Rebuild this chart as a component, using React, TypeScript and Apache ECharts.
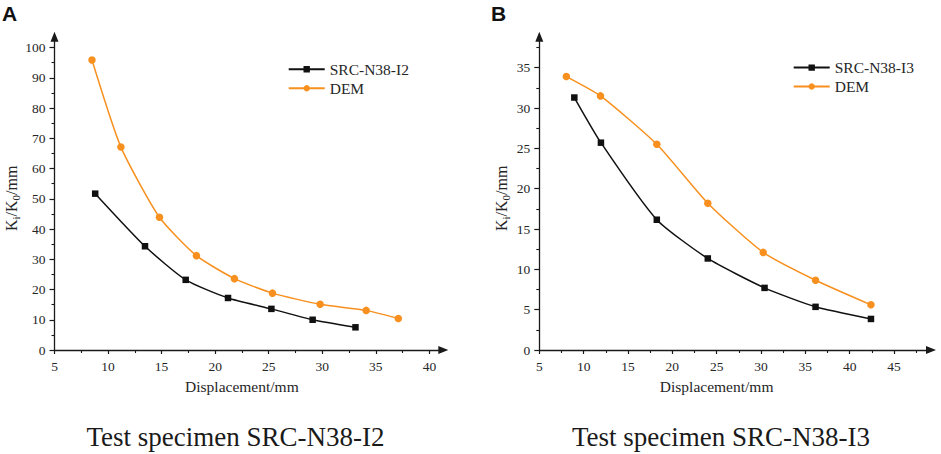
import React, { useEffect, useRef } from "react";
import * as echarts from "echarts";

// ---- Data ----
const A_SRC_NAME = "SRC-N38-I2";
const A_SRC_X = [8.8, 13.45, 17.25, 21.2, 25.25, 29.1, 33.1];
const A_SRC_Y = [51.7, 34.3, 23.2, 17.2, 13.6, 10.0, 7.5];
const A_DEM_X = [8.5, 11.2, 14.8, 18.25, 21.8, 25.35, 29.8, 34.1, 37.1];
const A_DEM_Y = [95.9, 67.1, 43.9, 31.2, 23.6, 18.8, 15.1, 13.1, 10.4];

const B_SRC_NAME = "SRC-N38-I3";
const B_SRC_X = [8.95, 11.95, 18.25, 24.0, 30.4, 36.15, 42.4];
const B_SRC_Y = [31.3, 25.7, 16.15, 11.35, 7.7, 5.35, 3.85];
const B_DEM_X = [8.05, 11.9, 18.25, 24.0, 30.25, 36.15, 42.4];
const B_DEM_Y = [33.9, 31.5, 25.5, 18.2, 12.1, 8.65, 5.6];

const DEM_NAME = "DEM";

// tick values
const A_X_TICKS = [5, 10, 15, 20, 25, 30, 35, 40];
const A_X_MINOR = [7.5, 12.5, 17.5, 22.5, 27.5, 32.5, 37.5];
const A_Y_TICKS = [0, 10, 20, 30, 40, 50, 60, 70, 80, 90, 100];
const A_Y_MINOR = [5, 15, 25, 35, 45, 55, 65, 75, 85, 95];
const B_X_TICKS = [5, 10, 15, 20, 25, 30, 35, 40, 45];
const B_X_MINOR = [7.5, 12.5, 17.5, 22.5, 27.5, 32.5, 37.5, 42.5, 47.5];
const B_Y_TICKS = [0, 5, 10, 15, 20, 25, 30, 35];
const B_Y_MINOR = [2.5, 7.5, 12.5, 17.5, 22.5, 27.5, 32.5, 37.5];

// axis extents (axis line ends where the arrow begins)
const A_X_MIN = 5;
const A_X_MAX = 41.3;
const A_Y_MIN = 0;
const A_Y_MAX = 103.6;
const B_X_MIN = 5;
const B_X_MAX = 49.17;
const B_Y_MIN = 0;
const B_Y_MAX = 38.84;

const X_NAME = "Displacement/mm";
const Y_NAME = "K{sub|i}/K{sub|0}/mm";
const TITLE_A = "Test specimen SRC-N38-I2";
const TITLE_B = "Test specimen SRC-N38-I3";

const SERIF = "'Liberation Serif', 'Times New Roman', serif";
const SANS = "'Liberation Sans', Arial, sans-serif";
const AXIS_COLOR = "#1a1a1a";
const TEXT_COLOR = "#262626";
const ORANGE = "#F7901E";
const BLACK = "#111111";

const zip = (xs: number[], ys: number[]) => xs.map((x, i) => [x, ys[i]]);

function mainXAxis(gridIndex: number, min: number, max: number, ticks: number[], namePad: number) {
  return {
    type: "value",
    gridIndex,
    position: "bottom",
    min,
    max,
    name: X_NAME,
    nameLocation: "middle",
    nameGap: 28,
    nameTextStyle: {
      fontFamily: SERIF,
      fontSize: 15.5,
      color: TEXT_COLOR,
      padding: [0, namePad, 0, 0],
    },
    axisLine: {
      show: true,
      onZero: false,
      symbol: ["none", "triangle"],
      symbolSize: [8, 10],
      lineStyle: { color: AXIS_COLOR, width: 1.3 },
    },
    axisTick: {
      show: true,
      inside: false,
      length: 4,
      customValues: ticks,
      lineStyle: { color: AXIS_COLOR, width: 1.2 },
    },
    axisLabel: {
      show: true,
      customValues: ticks,
      margin: 9,
      fontFamily: SERIF,
      fontSize: 13.5,
      color: TEXT_COLOR,
    },
    splitLine: { show: false },
  };
}

function minorXAxis(gridIndex: number, min: number, max: number, minors: number[]) {
  return {
    type: "value",
    gridIndex,
    position: "bottom",
    offset: 0,
    min,
    max,
    axisLine: { show: false, onZero: false },
    axisTick: {
      show: true,
      inside: false,
      length: 3,
      customValues: minors,
      lineStyle: { color: AXIS_COLOR, width: 1.1 },
    },
    axisLabel: { show: false, customValues: minors },
    splitLine: { show: false },
  };
}

function mainYAxis(gridIndex: number, min: number, max: number, ticks: number[], nameGap: number, namePad: number) {
  return {
    type: "value",
    gridIndex,
    position: "left",
    min,
    max,
    name: Y_NAME,
    nameLocation: "middle",
    nameGap,
    nameTextStyle: {
      fontFamily: SERIF,
      fontSize: 16,
      color: TEXT_COLOR,
      padding: [0, namePad, 0, 0],
      rich: {
        sub: {
          fontFamily: SERIF,
          fontSize: 11,
          lineHeight: 11,
          verticalAlign: "bottom",
          color: TEXT_COLOR,
        },
      },
      lineHeight: 20,
    },
    axisLine: {
      show: true,
      onZero: false,
      symbol: ["none", "triangle"],
      symbolSize: [8, 10],
      lineStyle: { color: AXIS_COLOR, width: 1.3 },
    },
    axisTick: {
      show: true,
      inside: false,
      length: 5,
      customValues: ticks,
      lineStyle: { color: AXIS_COLOR, width: 1.2 },
    },
    axisLabel: {
      show: true,
      customValues: ticks,
      margin: 9,
      fontFamily: SERIF,
      fontSize: 13.5,
      color: TEXT_COLOR,
    },
    splitLine: { show: false },
  };
}

function minorYAxis(gridIndex: number, min: number, max: number, minors: number[]) {
  return {
    type: "value",
    gridIndex,
    position: "left",
    offset: 0,
    min,
    max,
    axisLine: { show: false, onZero: false },
    axisTick: {
      show: true,
      inside: false,
      length: 3,
      customValues: minors,
      lineStyle: { color: AXIS_COLOR, width: 1.1 },
    },
    axisLabel: { show: false, customValues: minors },
    splitLine: { show: false },
  };
}

function lineSeries(name: string, xs: number[], ys: number[], xIdx: number, yIdx: number, color: string, symbol: string, size: number) {
  return {
    type: "line",
    name,
    xAxisIndex: xIdx,
    yAxisIndex: yIdx,
    data: zip(xs, ys),
    smooth: 0.2,
    symbol,
    symbolSize: size,
    showSymbol: true,
    lineStyle: { color, width: 1.5 },
    itemStyle: { color },
    z: symbol === "rect" ? 3 : 2,
  };
}

function legendFor(left: number, top: number, names: string[]) {
  return {
    orient: "vertical",
    left,
    top,
    padding: 0,
    data: names,
    itemWidth: 36,
    itemHeight: 8,
    itemGap: 3,
    selectedMode: false,
    textStyle: { fontFamily: SERIF, fontSize: 15.5, color: TEXT_COLOR },
  };
}

export default function App() {
  const ref = useRef<HTMLDivElement>(null);

  useEffect(() => {
    document.body.style.margin = "0";
    if (!ref.current) return;
    const chart = echarts.init(ref.current, undefined, { renderer: "svg" });

    const option: any = {
      animation: false,
      backgroundColor: "#ffffff",
      grid: [
        { left: 52.3, top: 36.7, width: 391, height: 313.3, containLabel: false },
        { left: 539.3, top: 36.7, width: 391.7, height: 313.3, containLabel: false },
      ],
      xAxis: [
        mainXAxis(0, A_X_MIN, A_X_MAX, A_X_TICKS, 14),
        minorXAxis(0, A_X_MIN, A_X_MAX, A_X_MINOR),
        mainXAxis(1, B_X_MIN, B_X_MAX, B_X_TICKS, 37),
        minorXAxis(1, B_X_MIN, B_X_MAX, B_X_MINOR),
      ],
      yAxis: [
        mainYAxis(0, A_Y_MIN, A_Y_MAX, A_Y_TICKS, 33.5, 10),
        minorYAxis(0, A_Y_MIN, A_Y_MAX, A_Y_MINOR),
        mainYAxis(1, B_Y_MIN, B_Y_MAX, B_Y_TICKS, 28, 10),
        minorYAxis(1, B_Y_MIN, B_Y_MAX, B_Y_MINOR),
      ],
      legend: [
        legendFor(287.7, 61.2, [A_SRC_NAME, DEM_NAME]),
        legendFor(792.7, 59.6, [B_SRC_NAME, DEM_NAME]),
      ],
      series: [
        lineSeries(DEM_NAME, A_DEM_X, A_DEM_Y, 0, 0, ORANGE, "circle", 7.5),
        lineSeries(A_SRC_NAME, A_SRC_X, A_SRC_Y, 0, 0, BLACK, "rect", 6.5),
        lineSeries(DEM_NAME, B_DEM_X, B_DEM_Y, 2, 2, ORANGE, "circle", 7.5),
        lineSeries(B_SRC_NAME, B_SRC_X, B_SRC_Y, 2, 2, BLACK, "rect", 6.5),
      ],
      graphic: [
        {
          type: "text",
          left: 2,
          top: 3,
          style: { text: "A", font: `bold 21px ${SANS}`, fill: "#111" },
        },
        {
          type: "text",
          left: 491,
          top: 3,
          style: { text: "B", font: `bold 21px ${SANS}`, fill: "#111" },
        },
        {
          type: "text",
          x: 235.5,
          y: 436.5,
          style: {
            text: TITLE_A,
            font: `27px ${SERIF}`,
            fill: "#1a1a1a",
            align: "center",
            verticalAlign: "middle",
          },
        },
        {
          type: "text",
          x: 721,
          y: 436.5,
          style: {
            text: TITLE_B,
            font: `27px ${SERIF}`,
            fill: "#1a1a1a",
            align: "center",
            verticalAlign: "middle",
          },
        },
      ],
    };

    chart.setOption(option);
    return () => {
      chart.dispose();
    };
  }, []);

  return (
    <div
      ref={ref}
      style={{ position: "absolute", left: 0, top: 0, width: 941, height: 454 }}
    />
  );
}
